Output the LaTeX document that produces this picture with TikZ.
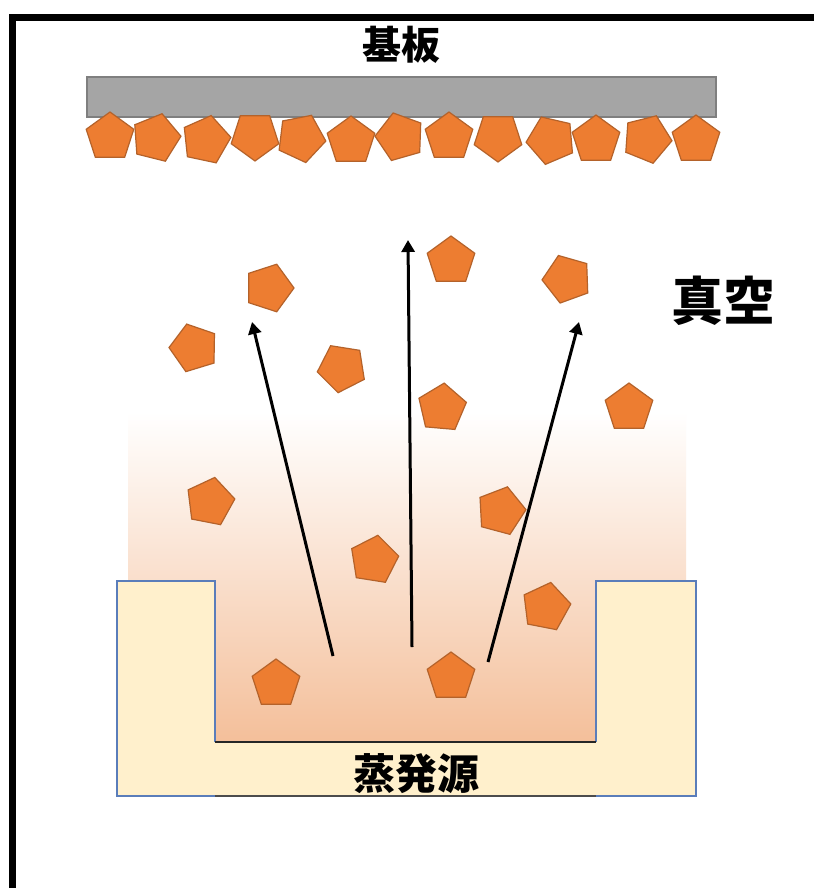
\documentclass[tikz,border=0pt]{standalone}
\usepackage{fontspec}
\newfontfamily\jpfont{Noto Sans CJK JP}
\usetikzlibrary{shapes.geometric, arrows.meta}

\definecolor{pentfill}{HTML}{ED7D31}
\definecolor{pentline}{HTML}{B4622A}
\definecolor{subfill}{HTML}{A5A5A5}
\definecolor{subline}{HTML}{7F7F7F}
\definecolor{crucfill}{HTML}{FFF0CC}
\definecolor{crucline}{HTML}{5A7DBA}
\definecolor{vapour}{HTML}{F4BF9A}

\tikzset{
  pent/.style={regular polygon, regular polygon sides=5, minimum size=50pt,
    inner sep=0pt, outer sep=0pt, fill=pentfill, draw=pentline, line width=1.2pt},
  flow/.style={line width=3pt, -{Triangle[length=12pt,width=13pt]}},
  label/.style={font=\jpfont\bfseries, inner sep=0pt},
}

\begin{document}
\begin{tikzpicture}[x=1pt, y=-1pt]
  \useasboundingbox (0,0) rectangle (814,888);
  \fill[white] (0,0) rectangle (814,888);

  % chamber wall
  \draw[line width=6.5pt] (12.7,888) -- (12.7,17.4) -- (814,17.4);

  % vapour cloud above the source
  \shade[top color=white, bottom color=vapour] (128,412) rectangle (686,742);

  % crucible (evaporation source)
  \fill[crucfill] (117,581) -- (215,581) -- (215,742) -- (596,742) -- (596,581)
    -- (696,581) -- (696,796) -- (117,796) -- cycle;
  \draw[crucline, line width=1.2pt] (215,742) -- (215,581) -- (117,581) -- (117,796) -- (215,796);
  \draw[crucline, line width=1.2pt] (596,742) -- (596,581) -- (696,581) -- (696,796) -- (596,796);
  \draw[black!85, line width=1.2pt] (215,742) -- (596,742);
  \draw[black!70, line width=1.2pt] (215,796) -- (596,796);
  \node[label, font=\jpfont\bfseries\fontsize{42}{42}\selectfont] (src) at (416,774) {蒸発源};

  % substrate
  \draw[subline, fill=subfill, line width=1.2pt] (87,77) rectangle (716,117);
  \node[label, font=\jpfont\bfseries\fontsize{39}{39}\selectfont] (sub) at (401,45) {基板};

  % deposited film
  \foreach \x/\y/\r [count=\i] in {110/137/0, 156/138/-14, 206/140/-12, 255/136/36,
      301/138/-25, 351/141/0, 400/137/16, 449/137/0, 498/137/36, 551/140/23,
      596/140/0, 647/139/-22, 696/140/0}
    \node[pent, rotate=\r] (film\i) at (\x,\y) {};

  % evaporated particles in flight
  \foreach \x/\y/\r [count=\i] in {269/288/-18, 194/348/17, 342/368/27, 451/261/0,
      567/279/20, 442/408/-5, 629/408/0, 210/502/-11, 501/511/-15, 374/560/-9,
      546/607/-11, 276/684/0, 451/677/0}
    \node[pent, rotate=\r] (atom\i) at (\x,\y) {};

  % vacuum label
  \node[label, font=\jpfont\bfseries\fontsize{52}{52}\selectfont] (vac) at (723,301) {真空};

  % flux directions
  \coordinate (l0) at (333,656);
  \coordinate (l1) at (252,322);
  \coordinate (m0) at (412,647);
  \coordinate (m1) at (408,240);
  \coordinate (r0) at (488,662);
  \coordinate (r1) at (579,322);
  \draw[flow] (l0) -- (l1);
  \draw[flow] (m0) -- (m1);
  \draw[flow] (r0) -- (r1);
\end{tikzpicture}
\end{document}
